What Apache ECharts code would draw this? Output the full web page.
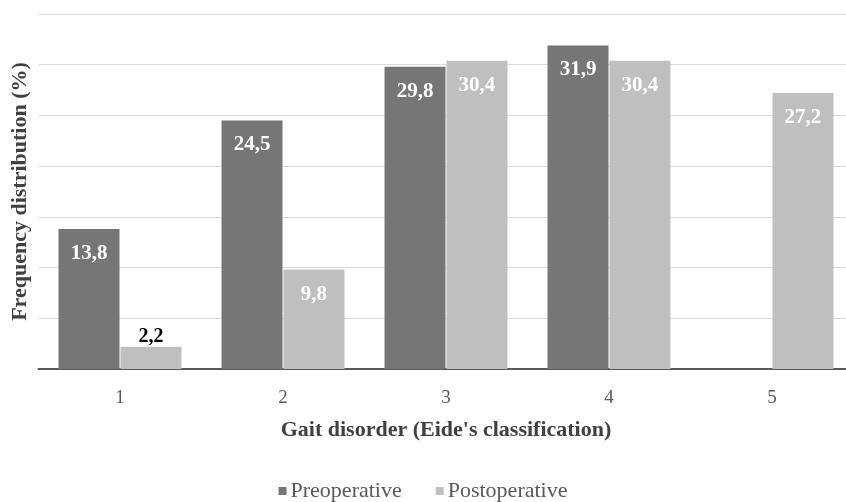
<!DOCTYPE html>
<html>
<head>
<meta charset="utf-8">
<script src="https://cdn.jsdelivr.net/npm/echarts@6/dist/echarts.min.js"></script>
<style>html,body{margin:0;padding:0;background:#fff}#c{width:846px;height:502px}</style>
</head>
<body>
<div id="c"></div>
<script>
const categories = ['1', '2', '3', '4', '5'];
const preoperative = [13.8, 24.5, 29.8, 31.9, null];
const postoperative = [2.2, 9.8, 30.4, 30.4, 27.2];
const seriesNames = ['Preoperative', 'Postoperative'];
const xTitle = "Gait disorder (Eide's classification)";
const yTitle = 'Frequency distribution (%)';

const serif = '"Liberation Serif", "Times New Roman", serif';
const fmt = p => String(p.value).replace('.', ',');
const chart = echarts.init(document.getElementById('c'), null, {renderer: 'canvas'});

function labelFor(v) {
  if (v != null && v < 5) {
    return {show: true, position: 'top', distance: 0, color: '#000', fontFamily: serif, fontWeight: 'bold', fontSize: 20, formatter: fmt};
  }
  return {show: true, position: 'insideTop', distance: 14, color: '#fff', fontFamily: serif, fontWeight: 'bold', fontSize: 21, formatter: fmt};
}

chart.setOption({
  animation: false,
  backgroundColor: '#fff',
  textStyle: {fontFamily: serif},
  legend: {
    data: seriesNames,
    bottom: 0,
    left: 'center',
    padding: 0,
    itemWidth: 8,
    itemHeight: 8,
    itemGap: 34,
    icon: 'rect',
    textStyle: {fontFamily: serif, fontSize: 22, color: '#595959', padding: [0, 0, 0, -1]}
  },
  grid: {left: 38.5, width: 815, top: 14, bottom: 133, containLabel: false, outerBoundsMode: 'none'},
  xAxis: {
    type: 'category',
    data: categories,
    axisLine: {lineStyle: {color: '#595959', width: 2}},
    axisTick: {show: false},
    axisLabel: {fontFamily: serif, fontSize: 19, color: '#595959', margin: 20},
    name: xTitle,
    nameLocation: 'middle',
    nameGap: 50,
    nameTextStyle: {fontFamily: serif, fontSize: 22, fontWeight: 'bold', color: '#404040'}
  },
  yAxis: {
    type: 'value',
    min: 0,
    max: 35,
    interval: 5,
    axisLine: {show: false},
    axisTick: {show: false},
    axisLabel: {show: false},
    splitLine: {lineStyle: {color: '#d9d9d9', width: 1}},
    name: yTitle,
    nameLocation: 'middle',
    nameRotate: 90,
    nameGap: 7,
    nameTextStyle: {fontFamily: serif, fontSize: 22, fontWeight: 'bold', color: '#404040'}
  },
  series: [
    {
      name: seriesNames[0],
      type: 'bar',
      barWidth: 61,
      barGap: '1.6%',
      itemStyle: {color: '#767676'},
      data: preoperative.map(v => ({value: v, label: labelFor(v)}))
    },
    {
      name: seriesNames[1],
      type: 'bar',
      barWidth: 61,
      itemStyle: {color: '#bfbfbf'},
      data: postoperative.map(v => ({value: v, label: labelFor(v)}))
    }
  ]
});
</script>
</body>
</html>
